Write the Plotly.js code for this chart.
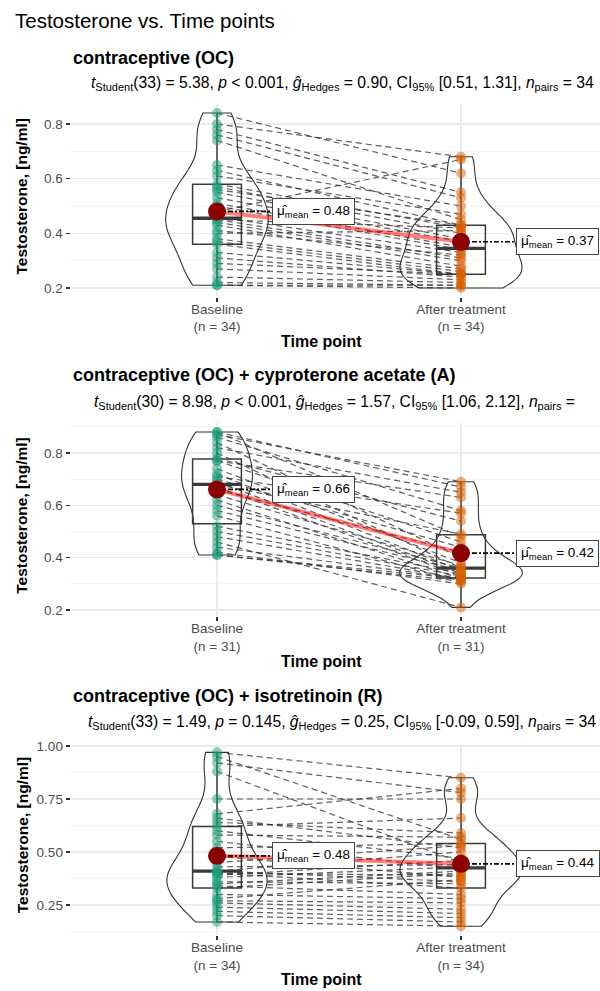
<!DOCTYPE html>
<html><head><meta charset="utf-8">
<script src="https://cdn.plot.ly/plotly-3.0.1.min.js"></script>
<style>html,body{margin:0;padding:0;background:#fff;}</style>
</head><body><div id="chart" style="width:600px;height:991px;"></div>
<script>
// ---------------- data ----------------
const timePoints = ["Baseline", "After treatment"];
const mainTitle = "Testosterone vs. Time points";
const panelTitles = ["contraceptive (OC)", "contraceptive (OC) + cyproterone acetate (A)", "contraceptive (OC) + isotretinoin (R)"];
const panelSubtitles = [
  "<i>t</i><sub>Student</sub>(33) = 5.38, <i>p</i> &lt; 0.001, <i>ĝ</i><sub>Hedges</sub> = 0.90, CI<sub>95%</sub> [0.51, 1.31], <i>n</i><sub>pairs</sub> = 34",
  "<i>t</i><sub>Student</sub>(30) = 8.98, <i>p</i> &lt; 0.001, <i>ĝ</i><sub>Hedges</sub> = 1.57, CI<sub>95%</sub> [1.06, 2.12], <i>n</i><sub>pairs</sub> =",
  "<i>t</i><sub>Student</sub>(33) = 1.49, <i>p</i> = 0.145, <i>ĝ</i><sub>Hedges</sub> = 0.25, CI<sub>95%</sub> [-0.09, 0.59], <i>n</i><sub>pairs</sub> = 34"
];
const yAxisTitle = "Testosterone, [ng/ml]";
const xAxisTitle = "Time point";

const ocBaseline = [0.84,0.80,0.78,0.76,0.74,0.65,0.63,0.61,0.58,0.57,0.56,0.55,0.53,0.51,0.50,0.48,0.46,0.45,0.45,0.44,0.43,0.41,0.40,0.38,0.37,0.36,0.33,0.31,0.29,0.27,0.24,0.22,0.21,0.21];
const ocAfter    = [0.62,0.68,0.55,0.53,0.45,0.50,0.43,0.47,0.42,0.40,0.43,0.38,0.37,0.35,0.34,0.67,0.33,0.42,0.31,0.30,0.28,0.32,0.41,0.27,0.26,0.25,0.25,0.24,0.25,0.23,0.22,0.21,0.20,0.21];

const ocaBaseline = [0.88,0.88,0.87,0.86,0.84,0.82,0.80,0.78,0.77,0.77,0.74,0.72,0.71,0.70,0.69,0.68,0.67,0.66,0.64,0.62,0.60,0.58,0.56,0.52,0.50,0.48,0.46,0.44,0.42,0.41,0.41];
const ocaAfter    = [0.67,0.48,0.69,0.58,0.40,0.65,0.36,0.54,0.46,0.63,0.38,0.35,0.57,0.44,0.34,0.49,0.33,0.42,0.37,0.32,0.36,0.35,0.31,0.34,0.33,0.32,0.21,0.32,0.30,0.32,0.31];

const ocrBaseline = [0.97,0.95,0.92,0.88,0.75,0.68,0.66,0.64,0.62,0.60,0.58,0.55,0.52,0.48,0.45,0.43,0.41,0.41,0.40,0.40,0.39,0.38,0.36,0.35,0.34,0.33,0.30,0.28,0.27,0.26,0.24,0.22,0.20,0.17];
const ocrAfter    = [0.85,0.56,0.78,0.45,0.75,0.80,0.52,0.59,0.66,0.47,0.57,0.42,0.54,0.38,0.53,0.44,0.36,0.50,0.39,0.33,0.46,0.43,0.35,0.41,0.30,0.40,0.28,0.37,0.26,0.23,0.21,0.19,0.17,0.15];

const yTick0 = [0.2, 0.2, 0.25];
const yDtick = [0.2, 0.2, 0.25];
const yTickFormat = [".1f", ".1f", ".2f"];

// ---------------- layout constants (pixels / sizes) ----------------
const W = 600, H = 991;
const panels = [
  {b: ocBaseline,  a: ocAfter,  anchorLo: [0.2, 288], anchorHi: [0.8, 124], titleY: 58,  subY: 83,  subX: 89, vw: [0.42, 0.5]},
  {b: ocaBaseline, a: ocaAfter, anchorLo: [0.2, 610], anchorHi: [0.8, 453], titleY: 375, subY: 402, subX: 92, vw: [0.29, 0.5]},
  {b: ocrBaseline, a: ocrAfter, anchorLo: [0.25, 905], anchorHi: [1.0, 746], titleY: 696, subY: 722, subX: 86, vw: [0.41, 0.5]}
];
const xPos = [1, 2];
const xRange = [0.4, 0.4 + (600 - 70.6) / 244];
const xDomain = [70.6 / W, 1];
const colBase = "rgba(27,158,119,0.5)";
const colAfter = "rgba(217,95,2,0.5)";
const FONT = "Liberation Sans, Arial, sans-serif";

// ---------------- helpers ----------------
const mean = a => a.reduce((s, v) => s + v, 0) / a.length;
function q7(arr, p) { const s = [...arr].sort((x, y) => x - y); const h = (s.length - 1) * p; const lo = Math.floor(h); return s[lo] + (h - lo) * (s[Math.min(lo + 1, s.length - 1)] - s[lo]); }
function sd(a) { const m = mean(a); return Math.sqrt(a.reduce((s, v) => s + (v - m) * (v - m), 0) / (a.length - 1)); }
function nrd0(a) { const iqr = q7(a, 0.75) - q7(a, 0.25); return 0.9 * Math.min(sd(a), iqr / 1.34) * Math.pow(a.length, -0.2); }
const py = px => 1 - px / H;

const traces = [];
const layout = {
  width: W, height: H, margin: {l: 0, r: 0, t: 0, b: 0},
  paper_bgcolor: "#fff", plot_bgcolor: "#fff",
  showlegend: false, boxmode: "overlay", violinmode: "overlay",
  font: {family: FONT, color: "#000"},
  annotations: []
};

layout.annotations.push({text: mainTitle, xref: "paper", yref: "paper", x: 13 / W, y: py(20), xanchor: "left", yanchor: "middle", showarrow: false, font: {size: 20.5, color: "#000"}});

panels.forEach((P, i) => {
  const suf = i === 0 ? "" : String(i + 1);
  const xa = "x" + suf, ya = "y" + suf;
  const all = P.b.concat(P.a);
  const mn = Math.min(...all), mx = Math.max(...all), span = mx - mn;
  const lo = mn - 0.05 * span, hi = mx + 0.05 * span;
  const k = (P.anchorLo[1] - P.anchorHi[1]) / (P.anchorHi[0] - P.anchorLo[0]);
  const topPx = P.anchorHi[1] - (hi - P.anchorHi[0]) * k;
  const botPx = P.anchorLo[1] + (P.anchorLo[0] - lo) * k;
  const n = P.b.length;

  layout["xaxis" + suf] = {
    domain: xDomain, range: xRange, anchor: ya, type: "linear",
    tickmode: "array", tickvals: xPos, ticktext: timePoints.map(t => t + "<br>(n = " + n + ")"),
    ticks: "outside", ticklen: 4, tickwidth: 1.2, tickcolor: "#333", ticklabelstandoff: -4,
    tickfont: {size: 13.5, color: "#4D4D4D", family: FONT},
    showgrid: true, gridcolor: "#EBEBEB", gridwidth: 1.1, zeroline: false, showline: false, fixedrange: true
  };
  layout["yaxis" + suf] = {
    domain: [py(botPx), py(topPx)], range: [lo, hi], anchor: xa,
    tick0: yTick0[i], dtick: yDtick[i], tickformat: yTickFormat[i],
    ticks: "outside", ticklen: 4, tickwidth: 1.2, tickcolor: "#333",
    tickfont: {size: 13.5, color: "#4D4D4D", family: FONT},
    showgrid: true, gridcolor: "#EBEBEB", gridwidth: 1.1,
    minor: {dtick: yDtick[i] / 2, tick0: yTick0[i], showgrid: true, gridcolor: "#F2F2F2", gridwidth: 0.8, ticks: ""},
    zeroline: false, showline: false, fixedrange: true
  };

  // paired dashed lines
  const lx = [], ly = [];
  for (let j = 0; j < n; j++) { lx.push(xPos[0], xPos[1], null); ly.push(P.b[j], P.a[j], null); }
  traces.push({type: "scatter", mode: "lines", x: lx, y: ly, xaxis: xa, yaxis: ya, connectgaps: false,
    line: {color: "rgba(50,50,50,0.78)", width: 1.2, dash: "6px,4px"}, hoverinfo: "skip"});

  [P.b, P.a].forEach((arr, g) => {
    // violin
    traces.push({type: "violin", name: "v" + i + "_" + g, x: arr.map(() => xPos[g]), y: arr, xaxis: xa, yaxis: ya,
      width: P.vw[g], scalegroup: "v" + i + "_" + g, scalemode: "width", spanmode: "hard", bandwidth: nrd0(arr),
      fillcolor: "rgba(255,255,255,0)", line: {color: "#333", width: 1.1},
      points: false, box: {visible: false}, meanline: {visible: false}, hoverinfo: "skip"});
    // box
    traces.push({type: "box", x: arr.map(() => xPos[g]), y: arr, xaxis: xa, yaxis: ya,
      width: 0.2, boxpoints: false, whiskerwidth: 0, quartilemethod: "linear",
      fillcolor: "rgba(255,255,255,0)", line: {color: "#3a3a3a", width: 1.5}, hoverinfo: "skip"});
    // thick median
    const med = q7(arr, 0.5);
    traces.push({type: "scatter", mode: "lines", x: [xPos[g] - 0.1, xPos[g] + 0.1], y: [med, med], xaxis: xa, yaxis: ya,
      line: {color: "#3a3a3a", width: 3.4}, hoverinfo: "skip"});
    // points
    traces.push({type: "scatter", mode: "markers", x: arr.map(() => xPos[g]), y: arr, xaxis: xa, yaxis: ya,
      marker: {size: 10, color: g === 0 ? colBase : colAfter, line: {width: 0}}, hoverinfo: "skip"});
  });

  const means = [mean(P.b), mean(P.a)];
  // mean path
  traces.push({type: "scatter", mode: "lines", x: xPos, y: means, xaxis: xa, yaxis: ya,
    line: {color: "rgba(255,0,0,0.5)", width: 4}, hoverinfo: "skip"});
  // connectors & labels
  means.forEach((m, g) => {
    traces.push({type: "scatter", mode: "lines", x: [xPos[g], xPos[g] + 0.225], y: [m, m], xaxis: xa, yaxis: ya,
      line: {color: "#000", width: 1.7, dash: "5px,2px,2px,2px"}, hoverinfo: "skip"});
    layout.annotations.push({xref: xa, yref: ya, x: xPos[g] + 0.225, y: m, xanchor: "left", yanchor: "middle",
      text: "μ\u0302<sub>mean</sub> = " + m.toFixed(2), showarrow: false,
      bgcolor: "#fff", bordercolor: "#444", borderwidth: 1, borderpad: 4, font: {size: 13.5, color: "#000"}});
  });
  // mean points
  traces.push({type: "scatter", mode: "markers", x: xPos, y: means, xaxis: xa, yaxis: ya,
    marker: {size: 18, color: "#8B0000"}, hoverinfo: "skip"});

  // titles
  layout.annotations.push({text: "<b>" + panelTitles[i] + "</b>", xref: "paper", yref: "paper", x: 71 / W, y: py(P.titleY),
    xanchor: "left", yanchor: "middle", showarrow: false, font: {size: 18, color: "#000"}});
  layout.annotations.push({text: panelSubtitles[i], xref: "paper", yref: "paper", x: P.subX / W, y: py(P.subY),
    xanchor: "left", yanchor: "middle", showarrow: false, font: {size: 15.7, color: "#000"}});
  layout.annotations.push({text: "<b>" + yAxisTitle + "</b>", xref: "paper", yref: "paper", x: 22 / W, y: py((topPx + botPx) / 2 - 4),
    xanchor: "center", yanchor: "middle", textangle: -90, showarrow: false, font: {size: 15.5, color: "#000"}});
  layout.annotations.push({text: "<b>" + xAxisTitle + "</b>", xref: "paper", yref: "paper", x: 321 / W, y: py(botPx + 45),
    xanchor: "center", yanchor: "middle", showarrow: false, font: {size: 16, color: "#000"}});
});

Plotly.newPlot("chart", traces, layout, {displayModeBar: false, staticPlot: true});
</script></body></html>
